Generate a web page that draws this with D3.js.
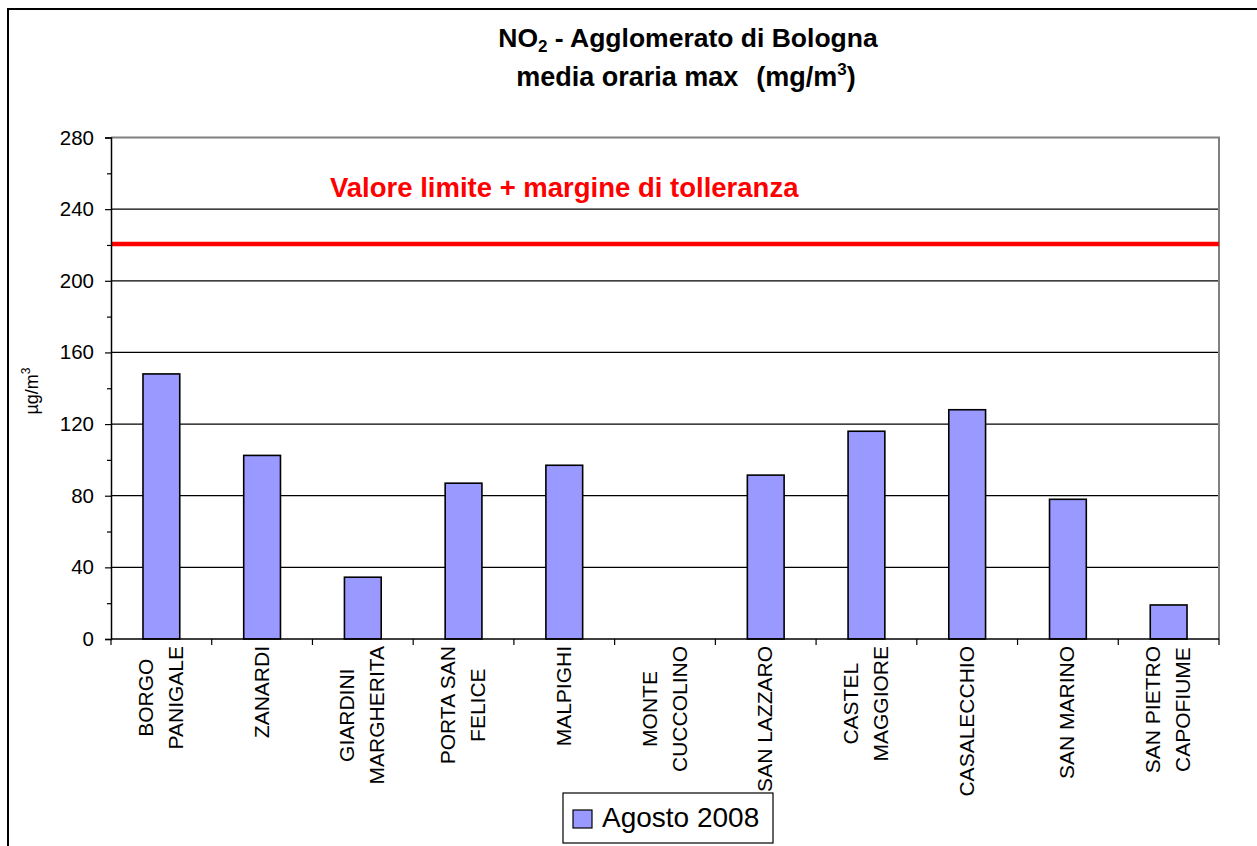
<!DOCTYPE html>
<html>
<head>
<meta charset="utf-8">
<script src="https://cdn.jsdelivr.net/npm/d3@7"></script>
<style>
  html, body { margin: 0; padding: 0; background: #fff; }
  svg { display: block; font-family: "Liberation Sans", Arial, sans-serif; }
</style>
</head>
<body>
<svg id="chart" width="1257" height="846"></svg>
<script>
// ---- data ----
const categories = [
  "BORGO\nPANIGALE", "ZANARDI", "GIARDINI\nMARGHERITA", "PORTA SAN\nFELICE",
  "MALPIGHI", "MONTE\nCUCCOLINO", "SAN LAZZARO", "CASTEL\nMAGGIORE",
  "CASALECCHIO", "SAN MARINO", "SAN PIETRO\nCAPOFIUME"
];
const seriesName = "Agosto 2008";
const values = [148, 102.5, 34.5, 87, 97, null, 91.5, 116, 128, 78, 19];
const limitValue = 220;
const limitLabel = "Valore limite + margine di tolleranza";
const yTicks = [0, 40, 80, 120, 160, 200, 240, 280];
const yMinorTicks = [20, 60, 100, 140, 180, 220, 260];
const yTitle = "µg/m";

// ---- layout ----
const svg = d3.select("#chart");
const plot = { left: 111, right: 1219, top: 137.5, bottom: 639 };

const x = d3.scaleBand().domain(d3.range(categories.length))
  .range([plot.left, plot.right]).paddingInner(0).paddingOuter(0);
const y = d3.scaleLinear().domain([0, 280]).range([plot.bottom, plot.top]);

// outer chart border
svg.append("rect").attr("x", 8).attr("y", 9).attr("width", 1300).attr("height", 900)
  .attr("fill", "#fff").attr("stroke", "#000").attr("stroke-width", 2);

// title
const title = svg.append("text").attr("x", 688).attr("y", 47)
  .attr("text-anchor", "middle").attr("font-weight", "bold").attr("font-size", 26.5);
title.append("tspan").text("NO");
title.append("tspan").text("2").attr("font-size", 17).attr("dy", 5);
title.append("tspan").text(" - Agglomerato di Bologna").attr("dy", -5);
const title2 = svg.append("text").attr("x", 686).attr("y", 86)
  .attr("text-anchor", "middle").attr("font-weight", "bold").attr("font-size", 27);
title2.append("tspan").text("media oraria max");
title2.append("tspan").text("(mg/m").attr("dx", 18);
title2.append("tspan").text("3").attr("font-size", 17).attr("dy", -11);
title2.append("tspan").text(")").attr("dy", 11);

// gridlines
svg.append("g").selectAll("line").data(yTicks.filter(d => d > 0 && d < 280)).join("line")
  .attr("x1", plot.left).attr("x2", plot.right)
  .attr("y1", d => y(d)).attr("y2", d => y(d))
  .attr("stroke", "#000").attr("stroke-width", 1.2);

// plot border top/right (grey)
svg.append("path")
  .attr("d", `M${plot.left},${y(280)}H${plot.right}V${plot.bottom}`)
  .attr("fill", "none").attr("stroke", "#808080").attr("stroke-width", 2);

// bars
const barFrac = 0.365;
svg.append("g").selectAll("rect").data(values.map((v, i) => ({ v, i })).filter(d => d.v != null)).join("rect")
  .attr("x", d => x(d.i) + x.bandwidth() * (1 - barFrac) / 2)
  .attr("width", x.bandwidth() * barFrac)
  .attr("y", d => y(d.v))
  .attr("height", d => y(0) - y(d.v))
  .attr("fill", "#9999ff").attr("stroke", "#000").attr("stroke-width", 1.6);

// limit line
svg.append("line").attr("x1", plot.left).attr("x2", plot.right)
  .attr("y1", y(limitValue) - 1).attr("y2", y(limitValue) - 1)
  .attr("stroke", "#ff0000").attr("stroke-width", 4.5);
svg.append("text").attr("x", 330).attr("y", 197)
  .attr("font-size", 27.5).attr("font-weight", "bold").attr("fill", "#ff0000")
  .text(limitLabel);

// y axis
const yAxis = d3.axisLeft(y).tickValues(yTicks).tickSize(6).tickPadding(11).tickFormat(d3.format("d"));
const gy = svg.append("g").attr("transform", `translate(${plot.left},0)`).call(yAxis);
gy.attr("font-family", null).attr("font-size", null);
gy.select(".domain").attr("stroke", "#000").attr("stroke-width", 1.5);
gy.selectAll(".tick line").attr("stroke", "#000").attr("stroke-width", 1.2);
gy.selectAll(".tick text").attr("font-size", 20.5).attr("fill", "#000");
const yMinor = d3.axisLeft(y).tickValues(yMinorTicks).tickSize(4).tickFormat("");
const gym = svg.append("g").attr("transform", `translate(${plot.left},0)`).call(yMinor);
gym.select(".domain").remove();
gym.selectAll(".tick line").attr("stroke", "#000").attr("stroke-width", 1.2);

// y title
const yt = svg.append("text").attr("transform", "translate(38,391) rotate(-90)")
  .attr("text-anchor", "middle").attr("font-size", 18);
yt.append("tspan").text(yTitle);
yt.append("tspan").text("3").attr("font-size", 12).attr("dy", -8);

// x axis
const xBoundaries = d3.range(categories.length + 1).map(i => i < categories.length ? x(i) : plot.right);
const gx = svg.append("g");
gx.append("line").attr("x1", plot.left).attr("x2", plot.right)
  .attr("y1", plot.bottom).attr("y2", plot.bottom).attr("stroke", "#000").attr("stroke-width", 1.5);
gx.selectAll("line.tk").data(xBoundaries).join("line").attr("class", "tk")
  .attr("x1", d => d).attr("x2", d => d)
  .attr("y1", plot.bottom).attr("y2", plot.bottom + 6)
  .attr("stroke", "#000").attr("stroke-width", 1.2);

// x labels (rotated, lines centered within a top-aligned block)
const lineGap = 30, labelTop = 646, labelSize = 21;
categories.forEach((c, i) => {
  const lines = c.split("\n");
  const g = svg.append("g")
    .attr("transform", `translate(${x(i) + x.bandwidth() / 2 - 1},${labelTop}) rotate(-90)`);
  const texts = lines.map((ln, j) => g.append("text")
    .attr("font-size", labelSize).attr("text-anchor", "middle")
    .attr("dominant-baseline", "central")
    .attr("y", (j - (lines.length - 1) / 2) * lineGap)
    .text(ln));
  const L = d3.max(texts, t => t.node().getComputedTextLength());
  texts.forEach(t => t.attr("x", -L / 2));
});

// legend
const lg = svg.append("g");
lg.append("rect").attr("x", 563).attr("y", 793).attr("width", 210).attr("height", 50)
  .attr("fill", "#fff").attr("stroke", "#000").attr("stroke-width", 1.2);
lg.append("rect").attr("x", 573).attr("y", 810).attr("width", 19).attr("height", 18)
  .attr("fill", "#9999ff").attr("stroke", "#000").attr("stroke-width", 1.2);
lg.append("text").attr("x", 602).attr("y", 827).attr("font-size", 28).text(seriesName);
</script>
</body>
</html>
